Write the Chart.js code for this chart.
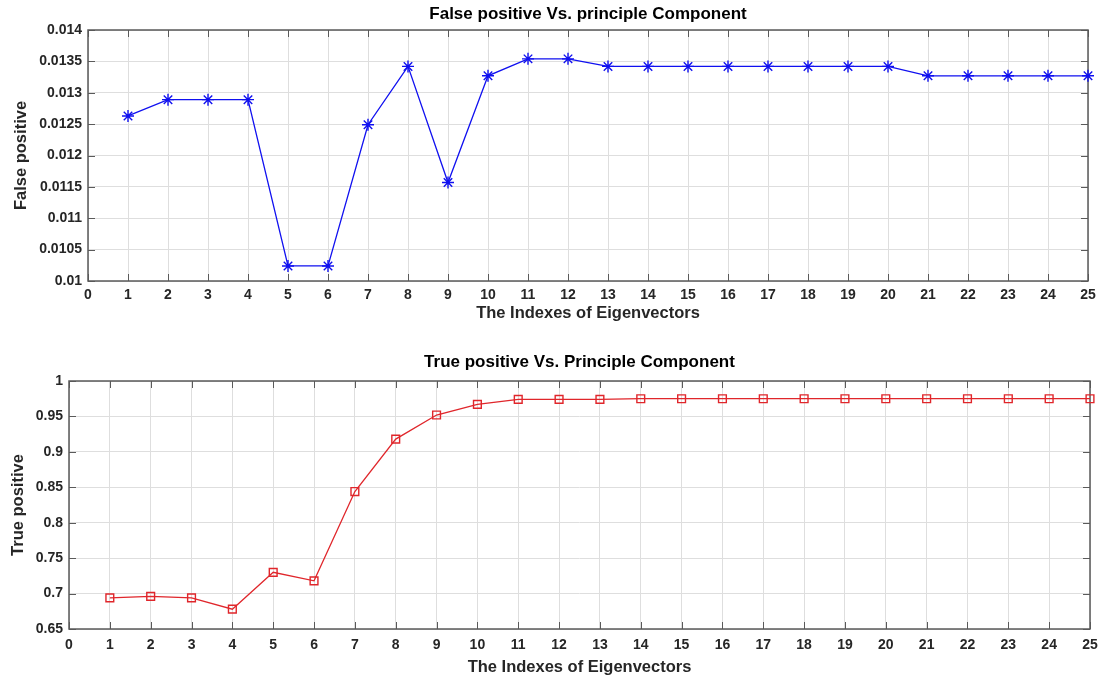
<!DOCTYPE html>
<html>
<head>
<meta charset="utf-8">
<script src="https://cdn.jsdelivr.net/npm/chart.js@4.4.1/dist/chart.umd.min.js"></script>
<style>
  html, body { margin: 0; padding: 0; background: #fff; }
  #wrap { position: relative; width: 1102px; height: 684px; }
  canvas { position: absolute; left: 0; }
  #fp-chart { top: 0; }
  #tp-chart { top: 340px; }
</style>
</head>
<body>
<div id="wrap">
  <canvas id="fp-chart" width="1102" height="330"></canvas>
  <canvas id="tp-chart" width="1102" height="344"></canvas>
</div>
<script>
const eigenIndexes = [1, 2, 3, 4, 5, 6, 7, 8, 9, 10, 11, 12, 13, 14, 15, 16, 17, 18, 19, 20, 21, 22, 23, 24, 25];

const falsePositive = [
  0.01263, 0.01289, 0.01289, 0.01289, 0.01024, 0.01024, 0.01249, 0.01342, 0.01157, 0.01327,
  0.01354, 0.01354, 0.01342, 0.01342, 0.01342, 0.01342, 0.01342, 0.01342, 0.01342, 0.01342,
  0.01327, 0.01327, 0.01327, 0.01327, 0.01327,
];

const truePositive = [
  0.694, 0.696, 0.694, 0.678, 0.730, 0.718, 0.844, 0.918, 0.952, 0.967,
  0.974, 0.974, 0.974, 0.975, 0.975, 0.975, 0.975, 0.975, 0.975, 0.975,
  0.975, 0.975, 0.975, 0.975, 0.975,
];

const xTickValues = [0, 1, 2, 3, 4, 5, 6, 7, 8, 9, 10, 11, 12, 13, 14, 15, 16, 17, 18, 19, 20, 21, 22, 23, 24, 25];
const fpTickValues = [0.01, 0.0105, 0.011, 0.0115, 0.012, 0.0125, 0.013, 0.0135, 0.014];
const tpTickValues = [0.65, 0.7, 0.75, 0.8, 0.85, 0.9, 0.95, 1];

const FONT = "'Liberation Sans', Arial, Helvetica, sans-serif";
const GRID = "#dedede";
const FRAME = "#5a5a5a";
const TICK_TEXT = "#262626";

// MATLAB-style box with inward tick marks on all four sides
const matlabFrame = {
  id: "matlabFrame",
  beforeDatasetsDraw(chart) {
    const { ctx, chartArea: a, scales } = chart;
    const len = 7;
    ctx.save();
    ctx.strokeStyle = FRAME;
    ctx.lineWidth = 1;
    ctx.beginPath();
    scales.x.ticks.forEach((t) => {
      const px = Math.round(scales.x.getPixelForValue(t.value)) + 0.5;
      ctx.moveTo(px, a.top);
      ctx.lineTo(px, a.top + len);
      ctx.moveTo(px, a.bottom);
      ctx.lineTo(px, a.bottom - len);
    });
    scales.y.ticks.forEach((t) => {
      const py = Math.round(scales.y.getPixelForValue(t.value)) + 0.5;
      ctx.moveTo(a.left, py);
      ctx.lineTo(a.left + len, py);
      ctx.moveTo(a.right, py);
      ctx.lineTo(a.right - len, py);
    });
    ctx.stroke();
    ctx.lineWidth = 1.5;
    ctx.strokeRect(a.left, a.top, a.right - a.left, a.bottom - a.top);
    ctx.restore();
  },
};

function formatTick(value) {
  return String(Number(value.toFixed(5)));
}

function makeChart(canvasId, opts) {
  const points = eigenIndexes.map((x, i) => ({ x, y: opts.values[i] }));
  return new Chart(document.getElementById(canvasId), {
    type: "line",
    data: {
      datasets: [
        {
          data: points,
          borderColor: opts.color,
          borderWidth: 1.3,
          pointStyle: opts.marker,
          pointRadius: opts.markerRadius,
          pointBorderColor: opts.color,
          pointBackgroundColor: "rgba(0,0,0,0)",
          pointBorderWidth: 1.4,
          tension: 0,
          clip: false,
        },
      ],
    },
    options: {
      responsive: false,
      animation: false,
      devicePixelRatio: 1,
      layout: { padding: { left: 0, right: opts.rightPad, top: 0, bottom: 0 } },
      plugins: {
        legend: { display: false },
        tooltip: { enabled: false },
        title: {
          display: true,
          text: opts.title,
          fullSize: false,
          color: "#000",
          font: { family: FONT, size: 17, weight: "bold", lineHeight: "17px" },
          padding: opts.titlePad,
        },
      },
      scales: {
        x: {
          type: "linear",
          min: 0,
          max: 25,
          afterBuildTicks: (scale) => {
            scale.ticks = xTickValues.map((value) => ({ value }));
          },
          afterFit: (scale) => {
            scale.height = opts.xAxisHeight;
            scale.paddingLeft = 0;
            scale.paddingRight = 0;
          },
          grid: { color: GRID, drawTicks: false },
          border: { display: false },
          ticks: {
            color: TICK_TEXT,
            padding: opts.xTickPad,
            maxRotation: 0,
            autoSkip: false,
            font: { family: FONT, size: 14, weight: "bold" },
          },
          title: {
            display: true,
            text: "The Indexes of Eigenvectors",
            color: TICK_TEXT,
            font: { family: FONT, size: 16.5, weight: "bold" },
            padding: { top: 0, bottom: 7 },
          },
        },
        y: {
          type: "linear",
          min: opts.yMin,
          max: opts.yMax,
          afterBuildTicks: (scale) => {
            scale.ticks = opts.yTicks.map((value) => ({ value }));
          },
          afterFit: (scale) => {
            scale.width = opts.yAxisWidth;
            scale.paddingTop = 0;
            scale.paddingBottom = 0;
          },
          grid: { color: GRID, drawTicks: false },
          border: { display: false },
          ticks: {
            color: TICK_TEXT,
            padding: 6,
            autoSkip: false,
            font: { family: FONT, size: 14, weight: "bold" },
            callback: (value) => formatTick(value),
          },
          title: {
            display: true,
            text: opts.yTitle,
            color: TICK_TEXT,
            font: { family: FONT, size: 16.5, weight: "bold" },
            padding: { top: opts.yTitlePad, bottom: 0 },
          },
        },
      },
    },
    plugins: [matlabFrame],
  });
}

makeChart("fp-chart", {
  values: falsePositive,
  color: "#1010f0",
  marker: "star",
  markerRadius: 6,
  title: "False positive Vs. principle Component",
  titlePad: { top: 6, bottom: 7 },
  yTitle: "False positive",
  yTitlePad: 12,
  yMin: 0.01,
  yMax: 0.014,
  yTicks: fpTickValues,
  yAxisWidth: 88,
  xAxisHeight: 49,
  xTickPad: 6,
  rightPad: 14,
});

makeChart("tp-chart", {
  values: truePositive,
  color: "#e0262b",
  marker: "rect",
  markerRadius: 5.5,
  title: "True positive Vs. Principle Component",
  titlePad: { top: 14, bottom: 10 },
  yTitle: "True positive",
  yTitlePad: 8.5,
  yMin: 0.65,
  yMax: 1,
  yTicks: tpTickValues,
  yAxisWidth: 69,
  xAxisHeight: 55,
  xTickPad: 8,
  rightPad: 12,
});
</script>
</body>
</html>
